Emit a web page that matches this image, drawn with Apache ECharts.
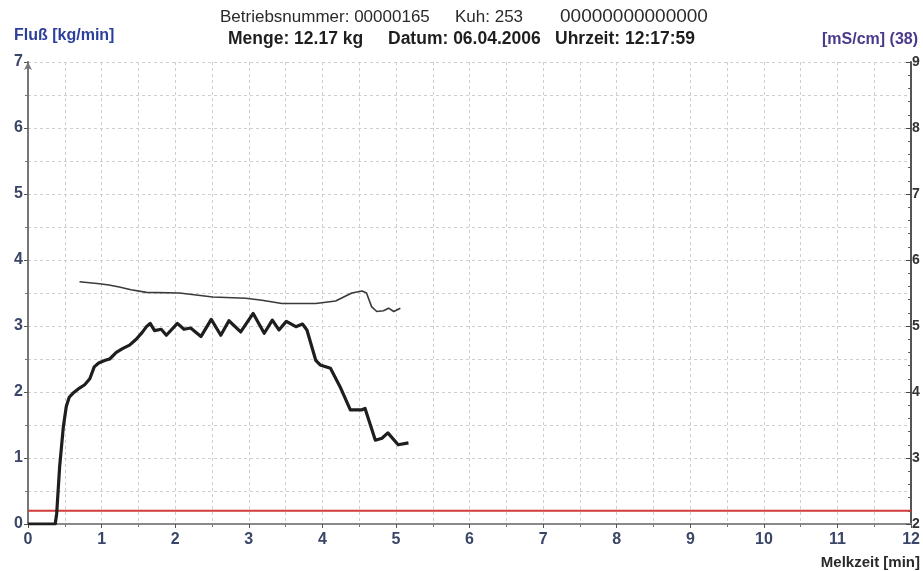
<!DOCTYPE html>
<html>
<head>
<meta charset="utf-8">
<script src="https://cdn.jsdelivr.net/npm/echarts@6/dist/echarts.min.js"></script>
<style>html,body{margin:0;padding:0;background:#fff}#c{width:923px;height:571px}</style>
</head>
<body>
<div id="c"></div>
<script>
// ---- data ----
const headerLine1 = ['Betriebsnummer: 00000165', 'Kuh: 253', '00000000000000'];
const headerLine2 = ['Menge: 12.17 kg', 'Datum: 06.04.2006', 'Uhrzeit: 12:17:59'];
const leftAxisName = 'Fluß [kg/min]';
const rightAxisName = '[mS/cm] (38)';
const xAxisName = 'Melkzeit [min]';
const xTicks = [0,1,2,3,4,5,6,7,8,9,10,11,12];
const leftTicks = [0,1,2,3,4,5,6,7];
const rightTicks = [2,3,4,5,6,7,8,9];
const flowTime = [0,0.37,0.39,0.43,0.48,0.52,0.56,0.61,0.70,0.77,0.84,0.90,0.96,1.05,1.11,1.20,1.29,1.38,1.47,1.55,1.61,1.66,1.72,1.81,1.88,2.03,2.12,2.21,2.35,2.49,2.62,2.73,2.89,3.06,3.21,3.32,3.41,3.51,3.64,3.73,3.79,3.91,3.97,4.11,4.24,4.38,4.54,4.58,4.72,4.81,4.89,5.03,5.17];
const flowValue = [0,0,0.16,0.87,1.47,1.78,1.92,1.98,2.06,2.11,2.20,2.38,2.44,2.48,2.50,2.60,2.66,2.71,2.80,2.90,2.99,3.04,2.93,2.95,2.86,3.04,2.95,2.97,2.84,3.10,2.86,3.08,2.91,3.19,2.89,3.09,2.94,3.07,2.99,3.03,2.94,2.48,2.41,2.36,2.08,1.73,1.73,1.75,1.27,1.30,1.38,1.20,1.23];
const condTime = [0.70,0.97,1.10,1.24,1.40,1.61,2.06,2.51,2.96,3.18,3.45,3.91,4.18,4.40,4.54,4.60,4.67,4.74,4.83,4.90,4.97,5.06];
const condValue = [5.67,5.64,5.62,5.59,5.55,5.51,5.50,5.44,5.42,5.39,5.34,5.34,5.38,5.50,5.53,5.50,5.29,5.22,5.23,5.27,5.22,5.27];
const thresholdTime = [0,12];
const thresholdValue = [0.2,0.2];

const zip = (a,b) => a.map((v,i)=>[v,b[i]]);
const FONT = 'Liberation Sans, Arial, sans-serif';
const chart = echarts.init(document.getElementById('c'));
const gridLine = {show:true, lineStyle:{color:'#cfcfcf', type:[3,3], width:1}};
const line1X = [220, 455, 560];
const line2X = [228, 388, 555];
const txt = (s, x, y, font, fill, align) => ({type:'text', x:x, y:y,
  style:{text:s, font:font, fill:fill, textAlign:align||'left', textVerticalAlign:'middle'}});
const graphics = [];
headerLine1.forEach((s,i)=>graphics.push(txt(s, line1X[i], 17, (i===2?'19px ':'17px ')+FONT, '#2a2a2a')));
headerLine2.forEach((s,i)=>graphics.push(txt(s, line2X[i], 39, 'bold 17.5px '+FONT, '#1e1e1e')));
graphics.push(txt(leftAxisName, 14, 36, 'bold 16px '+FONT, '#2c3f9c'));
graphics.push(txt(rightAxisName, 918, 40, 'bold 16px '+FONT, '#4b3a8c', 'right'));
graphics.push(txt(xAxisName, 920, 563, 'bold 15px '+FONT, '#2a2a2a', 'right'));

chart.setOption({
  backgroundColor:'#ffffff',
  animation:false,
  grid:{left:28, right:8, top:62, bottom:47},
  graphic:graphics,
  xAxis:{type:'value', min:xTicks[0], max:xTicks[xTicks.length-1], interval:1,
    axisLine:{show:true, lineStyle:{color:'#8a8a8a', width:2}},
    axisTick:{show:true, length:4, lineStyle:{color:'#555'}},
    minorTick:{show:true, splitNumber:2, length:3, lineStyle:{color:'#777'}},
    axisLabel:{margin:8, fontSize:16, fontWeight:'bold', color:'#3a4668', fontFamily:FONT},
    splitLine:gridLine,
    minorSplitLine:gridLine
  },
  yAxis:[
    {type:'value', min:leftTicks[0], max:leftTicks[leftTicks.length-1], interval:1, position:'left',
      axisLine:{show:true, symbol:['none','arrow'], symbolSize:[6,8], lineStyle:{color:'#777', width:2}},
      axisTick:{show:true, length:4, lineStyle:{color:'#555'}},
      minorTick:{show:true, splitNumber:2, length:3, lineStyle:{color:'#777'}},
      axisLabel:{margin:5, fontSize:16, fontWeight:'bold', color:'#3a4668', fontFamily:FONT},
      splitLine:gridLine, minorSplitLine:gridLine},
    {type:'value', min:rightTicks[0], max:rightTicks[rightTicks.length-1], interval:1, position:'right',
      axisLine:{show:true, lineStyle:{color:'#555', width:2}},
      axisTick:{show:true, inside:true, length:5, lineStyle:{color:'#444'}},
      minorTick:{show:true, splitNumber:5, length:3, lineStyle:{color:'#555'}},
      axisLabel:{margin:1, fontSize:14, fontWeight:'bold', color:'#333', fontFamily:FONT},
      splitLine:{show:false}}
  ],
  series:[
    {type:'line', data:zip(thresholdTime,thresholdValue), showSymbol:false, lineStyle:{color:'#d23a3a', width:2}, z:3},
    {type:'line', yAxisIndex:1, data:zip(condTime,condValue), showSymbol:false, lineStyle:{color:'#3a3a3a', width:1.6}, z:4},
    {type:'line', data:zip(flowTime,flowValue), showSymbol:false, lineStyle:{color:'#1e1e1e', width:3.2, join:'round'}, z:5}
  ]
});
</script>
</body>
</html>
